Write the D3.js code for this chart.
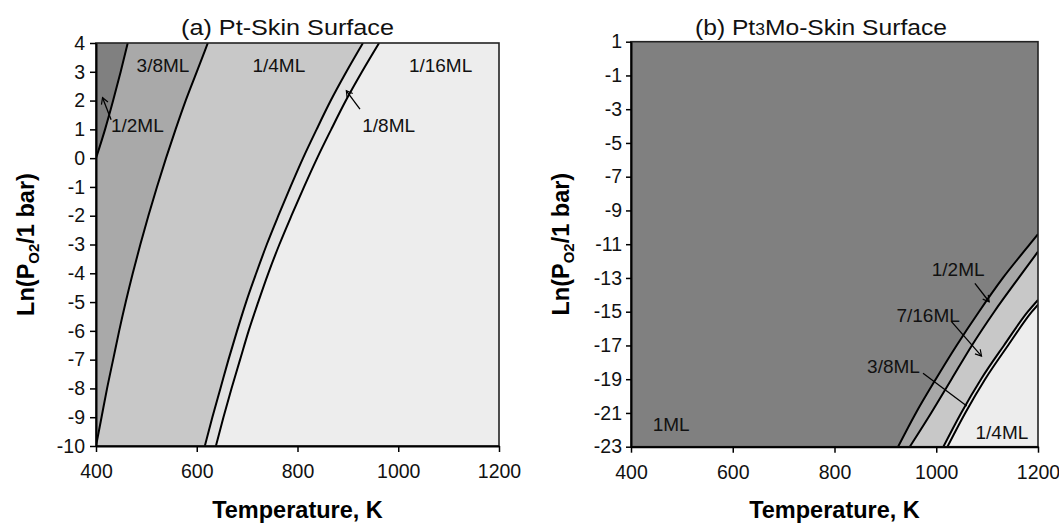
<!DOCTYPE html>
<html>
<head>
<meta charset="utf-8">
<script src="https://cdn.jsdelivr.net/npm/d3@7"></script>
<style>
body { margin: 0; background: #fff; }
svg { display: block; font-family: "Liberation Sans", Arial, sans-serif; }
</style>
</head>
<body>
<script>
// 1. Data

const tempTicks = [400, 600, 800, 1000, 1200]
const lnpTicksA = [4, 3, 2, 1, 0, -1, -2, -3, -4, -5, -6, -7, -8, -9, -10]
const lnpTicksB = [1, -1, -3, -5, -7, -9, -11, -13, -15, -17, -19, -21, -23]

// (a) Pt-skin: temperature of each phase boundary at a given ln(P)
const lnpLevelsA = [-10, -9, -8, -7, -6, -5, -4, -3, -2, -1, 0, 1, 2, 3, 4]
const temp38to14 = [400, 411, 422, 434, 446, 459, 473, 488, 504, 521, 539, 558, 578, 600, 622]
const temp14to18 = [616, 631, 647, 663, 680, 698, 718, 739, 762, 786, 811, 838, 866, 897, 930]
const temp18to116 = [638, 653, 669, 686, 703, 722, 742, 764, 788, 813, 839, 867, 896, 928, 962]
const lnpHalfTo38 = [0, 1, 2, 3, 4]
const tempHalfTo38 = [400, 418, 434, 449, 463]

// (b) Pt3Mo-skin
const lnp1to12 = [-23, -21, -19, -17, -15, -13, -11, -10.4]
const temp1to12 = [925, 960, 999, 1040, 1084, 1131, 1184, 1200]
const lnp12to716 = [-23, -21, -19, -17, -15, -13, -11.44]
const temp12to716 = [948, 990, 1030, 1070, 1114, 1162, 1200]
const lnp716to38 = [-23, -21, -19, -17, -15, -14.3]
const temp716to38 = [1014, 1049, 1088, 1133, 1180, 1200]
const lnp38to14 = [-23, -21, -19, -17, -15, -14.58]
const temp38to14b = [1022, 1057, 1096, 1141, 1188, 1200]

const zip = (ts, ps) => ts.map((t, i) => [t, ps[i]])

// 2. Dimensions

const width = 1059
const height = 523
const panels = [
    {
        title: "(a) Pt-Skin Surface",
        xRange: [96, 499], yRange: [446, 43],
        yDomain: [-10, 4], yTicks: lnpTicksA,
        background: "#ededed",
        // regions painted left of each boundary, back to front
        regions: [
            { pts: zip(temp18to116, lnpLevelsA), fill: "#e2e2e2" },
            { pts: zip(temp14to18, lnpLevelsA), fill: "#c8c8c8" },
            { pts: zip(temp38to14, lnpLevelsA), fill: "#a9a9a9" },
            { pts: zip(tempHalfTo38, lnpHalfTo38), fill: "#808080" },
        ],
        side: "left",
        labels: [
            { text: "3/8ML", t: 533, p: 3.0 },
            { text: "1/4ML", t: 763, p: 3.0 },
            { text: "1/16ML", t: 1084, p: 3.0 },
            { text: "1/2ML", t: 482, p: 0.91 },
            { text: "1/8ML", t: 981, p: 0.91 },
        ],
        arrows: [
            { from: [430, 1.33], to: [413, 2.10], head: true },
            { from: [924, 1.70], to: [897, 2.34], head: true },
        ],
        tickSizeY: 6, tickPadY: 5,
    },
    {
        title: "(b) Pt3Mo-Skin Surface",
        xRange: [631, 1038], yRange: [446.7, 41.7],
        yDomain: [-23, 1], yTicks: lnpTicksB,
        background: "#808080",
        regions: [
            { pts: zip(temp1to12, lnp1to12), fill: "#a7a7a7" },
            { pts: zip(temp12to716, lnp12to716), fill: "#c8c8c8" },
            { pts: zip(temp716to38, lnp716to38), fill: "#e4e4e4" },
            { pts: zip(temp38to14b, lnp38to14), fill: "#ededed" },
        ],
        side: "right",
        labels: [
            { text: "1ML", t: 479, p: -22.05 },
            { text: "1/4ML", t: 1129, p: -22.54 },
            { text: "1/2ML", t: 1043, p: -12.88 },
            { text: "7/16ML", t: 984, p: -15.59 },
            { text: "3/8ML", t: 916, p: -18.61 },
        ],
        arrows: [
            { from: [1076, -13.32], to: [1104, -14.41], head: true },
            { from: [1030, -15.59], to: [1089, -17.63], head: true },
            { from: [974, -18.65], to: [1060, -20.59], head: false },
        ],
        tickSizeY: 5, tickPadY: 4,
    },
]

// 3. Draw canvas

const svg = d3.select("body")
    .append("svg")
    .attr("width", width)
    .attr("height", height)

svg.append("defs").append("marker")
    .attr("id", "head")
    .attr("markerUnits", "userSpaceOnUse")
    .attr("viewBox", "-8 -5 10 10")
    .attr("refX", 0).attr("refY", 0)
    .attr("markerWidth", 10).attr("markerHeight", 10)
    .attr("orient", "auto")
    .append("path")
    .attr("d", "M-6,-3.5L0,0L-6,3.5")
    .attr("fill", "none")
    .attr("stroke", "#000")
    .attr("stroke-width", 1.2)

panels.forEach((pnl, k) => {
    // 4. Scales
    const xScale = d3.scaleLinear().domain([400, 1200]).range(pnl.xRange)
    const yScale = d3.scaleLinear().domain(pnl.yDomain).range(pnl.yRange)
    const [x0, x1] = pnl.xRange
    const [y0, y1] = pnl.yRange

    const g = svg.append("g")
    const clipId = "clip" + k
    g.append("clipPath").attr("id", clipId)
        .append("rect")
        .attr("x", x0).attr("y", y1)
        .attr("width", x1 - x0).attr("height", y0 - y1)

    const plot = g.append("g").attr("clip-path", `url(#${clipId})`)

    plot.append("rect")
        .attr("x", x0).attr("y", y1)
        .attr("width", x1 - x0).attr("height", y0 - y1)
        .attr("fill", pnl.background)

    // boundaries rise monotonically with temperature
    const curve = d3.line()
        .x(d => xScale(d[0]))
        .y(d => yScale(d[1]))
        .curve(d3.curveMonotoneX)

    const [tMin, tMax] = xScale.domain()
    const [pMin, pMax] = yScale.domain()

    // 5. Draw data
    plot.selectAll("path.region")
        .data(pnl.regions)
        .join("path")
        .attr("class", "region")
        .attr("fill", d => d.fill)
        .attr("d", d => {
            const last = d.pts[d.pts.length - 1]
            const corners = pnl.side === "left"
                ? [[tMin, last[1]], [tMin, pMax], [tMin, pMin], [d.pts[0][0], pMin]]
                : [[tMax, last[1]], [tMax, pMin]]
            return curve(d.pts) + corners
                .map(c => `L${xScale(c[0])},${yScale(c[1])}`).join("") + "Z"
        })

    plot.selectAll("path.boundary")
        .data(pnl.regions)
        .join("path")
        .attr("class", "boundary")
        .attr("fill", "none")
        .attr("stroke", "#000")
        .attr("stroke-width", 2)
        .attr("d", d => curve(d.pts))

    // region labels and pointers
    g.selectAll("text.label")
        .data(pnl.labels)
        .join("text")
        .attr("class", "label")
        .attr("x", d => xScale(d.t))
        .attr("y", d => yScale(d.p))
        .attr("text-anchor", "middle")
        .style("font-size", "19px")
        .attr("fill", "#111")
        .text(d => d.text)

    g.selectAll("line.arrow")
        .data(pnl.arrows)
        .join("line")
        .attr("class", "arrow")
        .attr("x1", d => xScale(d.from[0]))
        .attr("y1", d => yScale(d.from[1]))
        .attr("x2", d => xScale(d.to[0]))
        .attr("y2", d => yScale(d.to[1]))
        .attr("stroke", "#000")
        .attr("stroke-width", 1.3)
        .attr("marker-end", d => d.head ? "url(#head)" : null)

    // 6. Peripherals
    g.append("rect")
        .attr("x", x0).attr("y", y1)
        .attr("width", x1 - x0).attr("height", y0 - y1)
        .attr("fill", "none")
        .attr("stroke", "#222")
        .attr("stroke-width", 1.6)

    const xAxis = g.append("g")
        .attr("transform", `translate(0,${y0})`)
        .call(d3.axisBottom(xScale)
            .tickValues(tempTicks)
            .tickFormat(d => String(d))
            .tickSize(6)
            .tickSizeOuter(0)
            .tickPadding(12))
    const yAxis = g.append("g")
        .attr("transform", `translate(${x0},0)`)
        .call(d3.axisLeft(yScale)
            .tickValues(pnl.yTicks)
            .tickFormat(d => String(d))
            .tickSize(pnl.tickSizeY)
            .tickSizeOuter(0)
            .tickPadding(pnl.tickPadY))

    ;[xAxis, yAxis].forEach(ax => {
        ax.select(".domain").attr("stroke", "#000").attr("stroke-width", 2)
        ax.selectAll(".tick line").attr("stroke", "#000").attr("stroke-width", 1.5)
        ax.selectAll(".tick text")
            .attr("fill", "#111")
            .style("font-family", "'Liberation Sans', Arial, sans-serif")
            .style("font-size", "19.5px")
    })

    // titles
    const cx = (x0 + x1) / 2
    const title = g.append("text")
        .attr("x", k === 0 ? 181 : 695)
        .attr("y", 35)
        .attr("textLength", k === 0 ? 213 : 252)
        .attr("lengthAdjust", "spacingAndGlyphs")
        .style("font-size", "22.5px")
        .attr("fill", "#111")
    if (k === 0) {
        title.text(pnl.title)
    } else {
        title.append("tspan").text("(b) Pt")
        title.append("tspan").style("font-size", "16px").text("3")
        title.append("tspan").text("Mo-Skin Surface")
    }

    g.append("text")
        .attr("x", cx)
        .attr("y", 518)
        .attr("text-anchor", "middle")
        .style("font-size", "23.5px")
        .style("font-weight", "bold")
        .attr("fill", "#000")
        .text("Temperature, K")

    const yTitle = g.append("text")
        .attr("transform", `translate(${k === 0 ? 34 : 569},${(y0 + y1) / 2}) rotate(-90)`)
        .attr("text-anchor", "middle")
        .style("font-size", "23.5px")
        .style("font-weight", "bold")
        .attr("fill", "#000")
    yTitle.append("tspan").text("Ln(P")
    yTitle.append("tspan").attr("dy", 5).style("font-size", "15px").text("O2")
    yTitle.append("tspan").attr("dy", -5).text("/1 bar)")
})
</script>
</body>
</html>
